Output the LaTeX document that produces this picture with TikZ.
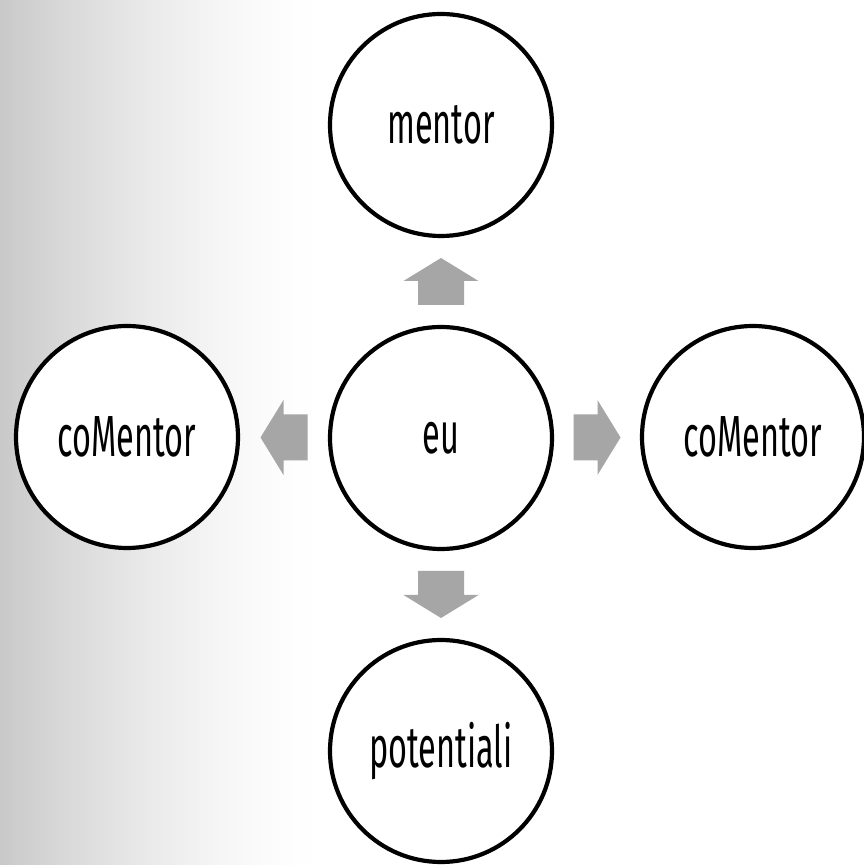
\documentclass[tikz,border=0pt]{standalone}
\usepackage{fontspec}
\setmainfont{Fira Sans}[FakeStretch=0.56]
\usetikzlibrary{calc}
\definecolor{arrowgray}{RGB}{166,166,166}
\tikzset{
  bubble/.style={circle, draw=black, line width=4.2pt, fill=white,
    minimum size=222pt, inner sep=0pt,
    font=\fontsize{58}{64}\selectfont, text=black},
  barrow/.pic={
    \fill[arrowgray] (-23.5pt,-23pt) -- (0.5pt,-23pt) -- (0.5pt,-37.5pt)
      -- (23.5pt,0pt) -- (0.5pt,37.5pt) -- (0.5pt,23pt) -- (-23.5pt,23pt) -- cycle;
  }
}
\begin{document}
\begin{tikzpicture}[x=1pt,y=1pt]
  \useasboundingbox (0,0) rectangle (863,865);
  \fill[white] (0,0) rectangle (863,865);
  \foreach \i in {0,...,79}{
    \pgfmathsetmacro{\p}{21*(1-\i/80)^1.5}
    \fill[black!\p] (\i*4,0) rectangle (\i*4+4.3,865);
  }
  \node[bubble] (eu) at (441,427) {eu};
  \node[bubble] (mentor) at (441,740) {mentor};
  \node[bubble] (potentiali) at (441,114) {potentiali};
  \node[bubble] (coleft) at (127,428) {coMentor};
  \node[bubble] (coright) at (753,428) {coMentor};
  \pic[rotate=90] at ($(eu.center)!0.5!(mentor.center)$) {barrow};
  \pic[rotate=-90] at ($(eu.center)!0.5!(potentiali.center)$) {barrow};
  \pic[rotate=180] at ($(eu.center)!0.5!(coleft.center)$) {barrow};
  \pic at ($(eu.center)!0.5!(coright.center)$) {barrow};
\end{tikzpicture}
\end{document}
